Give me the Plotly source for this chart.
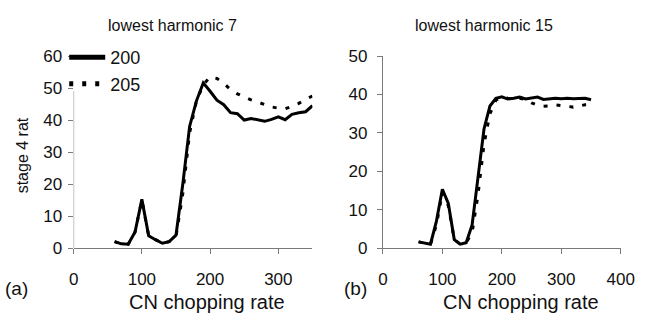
import plotly.graph_objects as go

# ---- data ----
chop_rate = [60, 70, 80, 90, 100, 110, 120, 130, 140, 150, 160, 170, 180, 190, 200,
             210, 220, 230, 240, 250, 260, 270, 280, 290, 300, 310, 320, 330, 340, 350]

h7_200 = [2, 1.3, 1.2, 5, 15.2, 3.8, 2.6, 1.5, 2, 4, 20, 38, 46, 51.6, 49,
          46.2, 44.8, 42.3, 42, 40, 40.5, 40, 39.6, 40.2, 41, 40.1, 41.8, 42.3, 42.6, 44.5]
h7_205 = [2, 1.3, 1.2, 5, 15, 3.8, 2.6, 1.5, 2, 3.5, 17, 36, 46, 51, 53.5,
          53, 51.5, 49.5, 48.2, 47.2, 46.3, 45.6, 44.8, 44.1, 43.7, 43.5, 44.3, 45.2, 46.5, 47.5]

h15_200 = [1.6, 1.3, 1.0, 7, 15.3, 11.6, 2.2, 1.0, 1.4, 6, 19, 31, 37, 39, 39.4,
           38.8, 39, 39.3, 38.8, 39, 39.3, 38.7, 38.9, 39, 38.9, 39, 38.9, 39, 39, 38.6]
h15_205 = [1.6, 1.3, 1.0, 6, 14.5, 11, 2.2, 1.0, 1.4, 4, 14, 27, 35, 38.5, 39.3,
           39, 38.8, 39, 38.7, 37.8, 37.2, 36.9, 37, 37.3, 37.1, 37, 36.7, 37, 37.3, 37.3]

series_names = ["200", "205"]
left_ticks = [0, 100, 200, 300]
right_ticks = [0, 100, 200, 300, 400]
left_yticks = [0, 10, 20, 30, 40, 50, 60]
right_yticks = [0, 10, 20, 30, 40, 50]
left_axis_line_top = 49  # visible part of the left y axis line (rest hidden behind legend)

FONT = "Liberation Sans, Arial, sans-serif"
TXT = "#111111"
AX = "#7a7a7a"
W, H = 650, 322

def px_x(v):
    return v / W

def px_y(v):
    return 1 - v / H

fig = go.Figure()
dot_style = "4px,9px"
fig.add_trace(go.Scatter(x=chop_rate, y=h7_200, name=series_names[0], mode="lines",
                         line=dict(color="black", width=3), xaxis="x", yaxis="y"))
fig.add_trace(go.Scatter(x=chop_rate, y=h7_205, name=series_names[1], mode="lines",
                         line=dict(color="black", width=3, dash=dot_style), xaxis="x", yaxis="y"))
fig.add_trace(go.Scatter(x=chop_rate, y=h15_200, name=series_names[0], mode="lines", showlegend=False,
                         line=dict(color="black", width=3), xaxis="x2", yaxis="y2"))
fig.add_trace(go.Scatter(x=chop_rate, y=h15_205, name=series_names[1], mode="lines", showlegend=False,
                         line=dict(color="black", width=3, dash=dot_style), xaxis="x2", yaxis="y2"))

ydom = [px_y(254), px_y(50)]
axcommon = dict(linecolor=AX, linewidth=1, ticks="outside", ticklen=5,
                tickcolor=AX, tickwidth=1, showgrid=False, zeroline=False,
                tickfont=dict(family=FONT, size=17, color=TXT))

fig.update_layout(
    width=W, height=H, autosize=False,
    margin=dict(l=0, r=0, t=0, b=0),
    paper_bgcolor="white", plot_bgcolor="white",
    xaxis=dict(domain=[px_x(70.7), px_x(316.7)], range=[0, 350], tickvals=left_ticks,
               anchor="y", ticklabelstandoff=11, showline=True, **axcommon),
    yaxis=dict(domain=ydom, range=[0, 60], tickvals=left_yticks, anchor="x",
               ticklabelstandoff=2, showline=False, **axcommon),
    xaxis2=dict(domain=[px_x(389.3), px_x(634.3)], range=[0, 400], tickvals=right_ticks,
                anchor="y2", ticklabelstandoff=11, showline=True, **axcommon),
    yaxis2=dict(domain=ydom, range=[0, 50], tickvals=right_yticks, anchor="x2",
                ticklabelstandoff=6, showline=True, **axcommon),
    showlegend=True,
    legend=dict(x=px_x(61), xanchor="left", y=px_y(32), yanchor="top",
                bgcolor="rgba(0,0,0,0)", borderwidth=0, itemwidth=36,
                font=dict(family=FONT, size=18, color=TXT),
                tracegroupgap=0, itemsizing="constant"),
)

# left y-axis line, only its visible lower part
fig.add_shape(type="line", xref="x", yref="y", x0=0, x1=0, y0=0, y1=left_axis_line_top,
              line=dict(color=AX, width=1), layer="below")

def ann(text, x, y, size, angle=0):
    fig.add_annotation(text=text, x=px_x(x), y=px_y(y), xref="paper", yref="paper",
                       showarrow=False, xanchor="center", yanchor="middle",
                       textangle=angle, font=dict(family=FONT, size=size, color=TXT))

ann("lowest harmonic 7", 173, 18, 16)
ann("lowest harmonic 15", 493, 18, 16)
ann("stage 4 rat", 18, 155, 16, -90)
ann("CN chopping rate", 208, 311, 20)
ann("CN chopping rate", 532, 311, 20)
ann("(a)", 11.5, 297, 19)
ann("(b)", 361, 297, 19)

fig.write_html("out.html", config={"responsive": False, "displayModeBar": False},
               post_script="document.body.style.margin='0';document.body.style.overflow='hidden';")
